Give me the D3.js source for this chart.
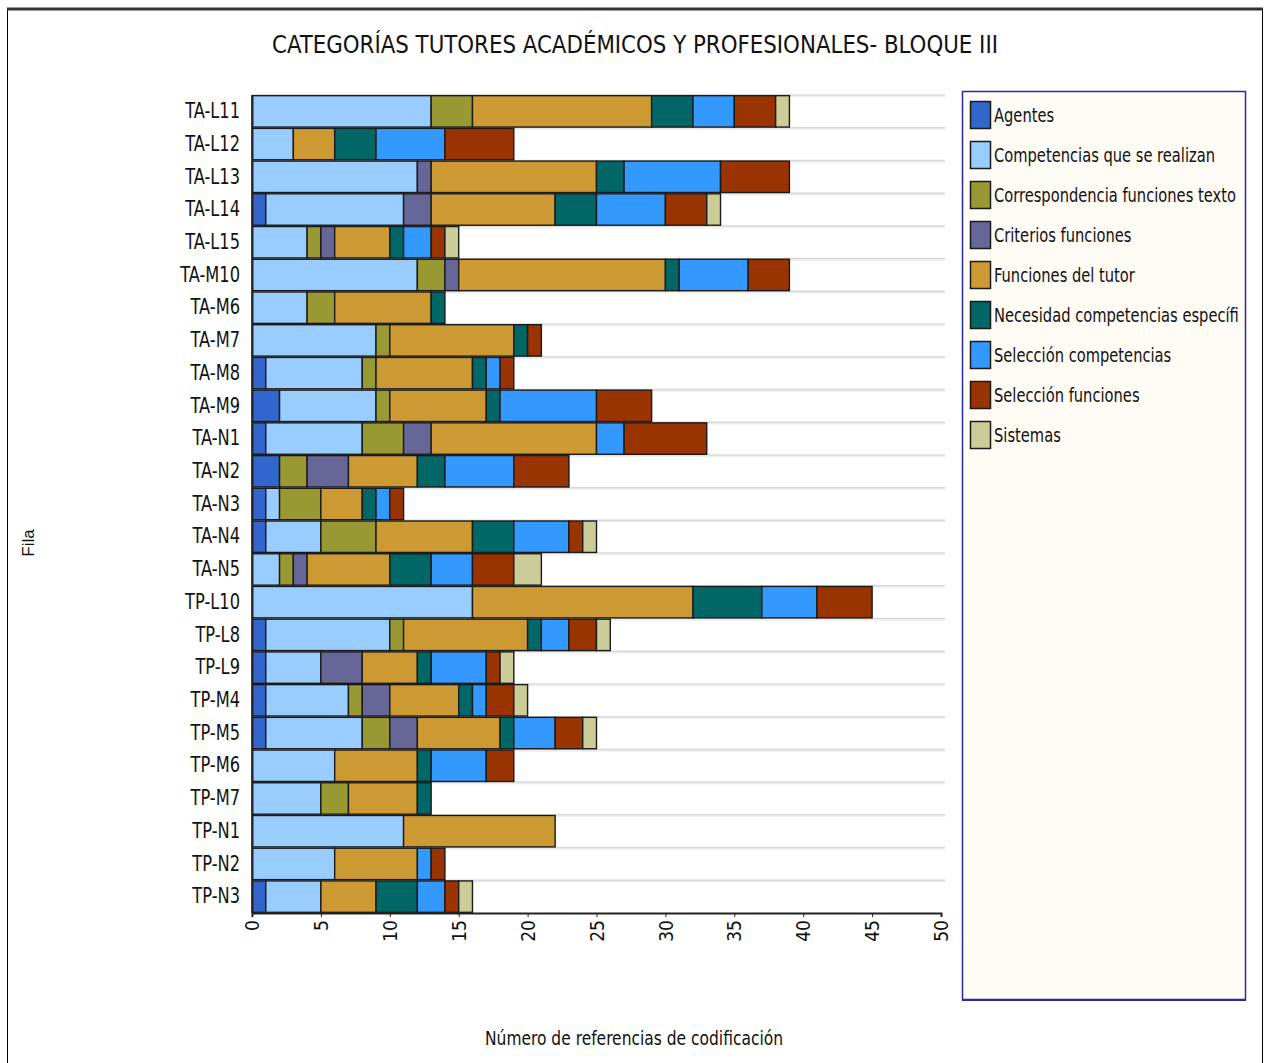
<!DOCTYPE html>
<html><head><meta charset="utf-8">
<script src="https://cdn.jsdelivr.net/npm/d3@7"></script>
<style>
body{margin:0;background:#fff;}
svg{display:block;}
</style></head>
<body>
<svg id="chart" width="1267" height="1063"></svg>
<script>
const categories = ["TA-L11","TA-L12","TA-L13","TA-L14","TA-L15","TA-M10","TA-M6","TA-M7","TA-M8","TA-M9","TA-N1","TA-N2","TA-N3","TA-N4","TA-N5","TP-L10","TP-L8","TP-L9","TP-M4","TP-M5","TP-M6","TP-M7","TP-N1","TP-N2","TP-N3"];
const seriesNames = ["Agentes","Competencias que se realizan","Correspondencia funciones texto","Criterios funciones","Funciones del tutor","Necesidad competencias específi","Selección competencias","Selección funciones","Sistemas"];
const seriesColors = ["#3366CC","#99CCFF","#999933","#666699","#CC9933","#006666","#3399FF","#993300","#CCCC99"];
const agentes        = [0,0,0,1,0,0,0,0,1,2,1,2,1,1,0,0,1,1,1,1,0,0,0,0,1];
const competencias   = [13,3,12,10,4,12,4,9,7,7,7,0,1,4,2,16,9,4,6,7,6,5,11,6,4];
const correspondencia= [3,0,0,0,1,2,2,1,1,1,3,2,3,4,1,0,1,0,1,2,0,2,0,0,0];
const criterios      = [0,0,1,2,1,1,0,0,0,0,2,3,0,0,1,0,0,3,2,2,0,0,0,0,0];
const funciones      = [13,3,12,9,4,15,7,9,7,7,12,5,3,7,6,16,9,4,5,6,6,5,11,6,4];
const necesidad      = [3,3,2,3,1,1,1,1,1,1,0,2,1,3,3,5,1,1,1,1,1,1,0,0,3];
const selComp        = [3,5,7,5,2,5,0,0,1,7,2,5,1,4,3,4,2,4,1,3,4,0,0,1,2];
const selFunc        = [3,5,5,3,1,3,0,1,1,4,6,4,1,1,3,4,2,1,2,2,2,0,0,1,1];
const sistemas       = [1,0,0,1,1,0,0,0,0,0,0,0,0,1,2,0,1,1,1,1,0,0,0,0,1];
const xTicks = [0,5,10,15,20,25,30,35,40,45,50];
const titleText = "CATEGORÍAS TUTORES ACADÉMICOS Y PROFESIONALES- BLOQUE III";
const xTitle = "Número de referencias de codificación";
const yTitle = "Fila";

const seriesValues = [agentes,competencias,correspondencia,criterios,funciones,necesidad,selComp,selFunc,sistemas];
const keys = seriesNames;
const rows = categories.map((c,i)=>{const o={cat:c}; keys.forEach((k,j)=>o[k]=seriesValues[j][i]); return o;});
const stacked = d3.stack().keys(keys)(rows);
const color = d3.scaleOrdinal().domain(keys).range(seriesColors);

const svg = d3.select("#chart");
const font = "'DejaVu Sans Condensed','Liberation Sans',Arial,sans-serif";

// outer frame
svg.append("rect").attr("x",7.5).attr("y",9).attr("width",1255).attr("height",1060)
  .attr("fill","none").attr("stroke","#000").attr("stroke-width",1);
svg.append("line").attr("x1",7).attr("x2",1263).attr("y1",9).attr("y2",9).attr("stroke","#333").attr("stroke-width",3);

const m = {left:252, right:941, top:95, bottom:913};
const x = d3.scaleLinear().domain([0,50]).range([m.left,m.right]);
const y = d3.scaleBand().domain(categories).range([m.top,m.bottom]).paddingInner(0.04).paddingOuter(0.02);

// gridlines at band boundaries
const step = y.step();
const gridY = categories.map((c,i)=>m.top + i*step);
const g = svg.append("g");
g.selectAll("line.grid2").data(gridY).join("line")
  .attr("x1",m.left).attr("x2",m.right+4).attr("y1",d=>d+1.5).attr("y2",d=>d+1.5)
  .attr("stroke","#eeeeee").attr("stroke-width",1.5);
g.selectAll("line.grid").data(gridY).join("line")
  .attr("x1",m.left).attr("x2",m.right+4).attr("y1",d=>d).attr("y2",d=>d)
  .attr("stroke","#d8d8d8").attr("stroke-width",1.5);

// bars
svg.append("g").selectAll("g").data(stacked).join("g")
  .attr("fill",d=>color(d.key))
  .selectAll("rect").data(d=>d.filter(e=>e[1]-e[0]>0)).join("rect")
  .attr("x",d=>x(d[0])).attr("width",d=>x(d[1])-x(d[0]))
  .attr("y",d=>y(d.data.cat)).attr("height",y.bandwidth())
  .attr("stroke","#1a1a1a").attr("stroke-width",1.4);

// axes
const yAxis = svg.append("g").attr("transform",`translate(${m.left},0)`)
  .call(d3.axisLeft(y).tickSize(0).tickPadding(12));
yAxis.select(".domain").attr("stroke","#222").attr("stroke-width",2);
const yf = 0.86;
yAxis.selectAll("text").attr("font-family",font).attr("font-size",21).attr("fill","#111")
  .attr("x",-12/yf).attr("transform",`scale(${yf},1)`);

const xAxis = svg.append("g").attr("transform",`translate(0,${m.bottom})`)
  .call(d3.axisBottom(x).tickValues(xTicks).tickSize(4).tickFormat(d3.format("d")));
xAxis.select(".domain").attr("stroke","#222").attr("stroke-width",2);
xAxis.selectAll(".tick line").attr("stroke","#222");
xAxis.selectAll("text").attr("font-family",font).attr("font-size",19).attr("fill","#111")
  .attr("transform","rotate(-90)").attr("text-anchor","end").attr("dy","0.35em")
  .attr("x",-7).attr("y",0);

// title
svg.append("text").attr("x",635).attr("y",53).attr("text-anchor","middle")
  .attr("font-family",font).attr("font-size",25).attr("fill","#111")
  .attr("textLength",726).attr("lengthAdjust","spacingAndGlyphs").text(titleText);

// axis titles
svg.append("text").attr("x",634).attr("y",1045).attr("text-anchor","middle")
  .attr("font-family",font).attr("font-size",20).attr("fill","#111")
  .attr("textLength",298).attr("lengthAdjust","spacingAndGlyphs").text(xTitle);
svg.append("text").attr("transform","translate(34,543) rotate(-90)").attr("text-anchor","middle")
  .attr("font-family","'Liberation Sans',Arial,sans-serif").attr("font-size",17).attr("fill","#111").text(yTitle);

// legend
const lg = svg.append("g");
lg.append("rect").attr("x",962.5).attr("y",91.5).attr("width",283).attr("height",908)
  .attr("fill","#FFFBF5").attr("stroke","#2a2aa0").attr("stroke-width",1.5);
lg.append("line").attr("x1",962).attr("x2",1246).attr("y1",1000).attr("y2",1000).attr("stroke","#2a2aa0").attr("stroke-width",2);
const items = lg.selectAll("g.item").data(keys).join("g").attr("class","item")
  .attr("transform",(d,i)=>`translate(970,${101+i*40})`);
items.append("rect").attr("x",0.5).attr("y",0.5).attr("width",20).attr("height",27)
  .attr("fill",d=>color(d)).attr("stroke","#1a1a1a").attr("stroke-width",1.5);
const lt = items.append("text").attr("x",24).attr("y",21).attr("font-family",font).attr("font-size",20).attr("fill","#111").text(d=>d);
// horizontal scale so "Competencias que se realizan" spans ~221px
let ref = 0; lt.each(function(d){ if(d===keys[1]) ref=this.getComputedTextLength(); });
const lf = ref ? 221/ref : 0.82;
lt.attr("x",24/lf).attr("transform",`scale(${lf},1)`);
</script>
</body></html>
